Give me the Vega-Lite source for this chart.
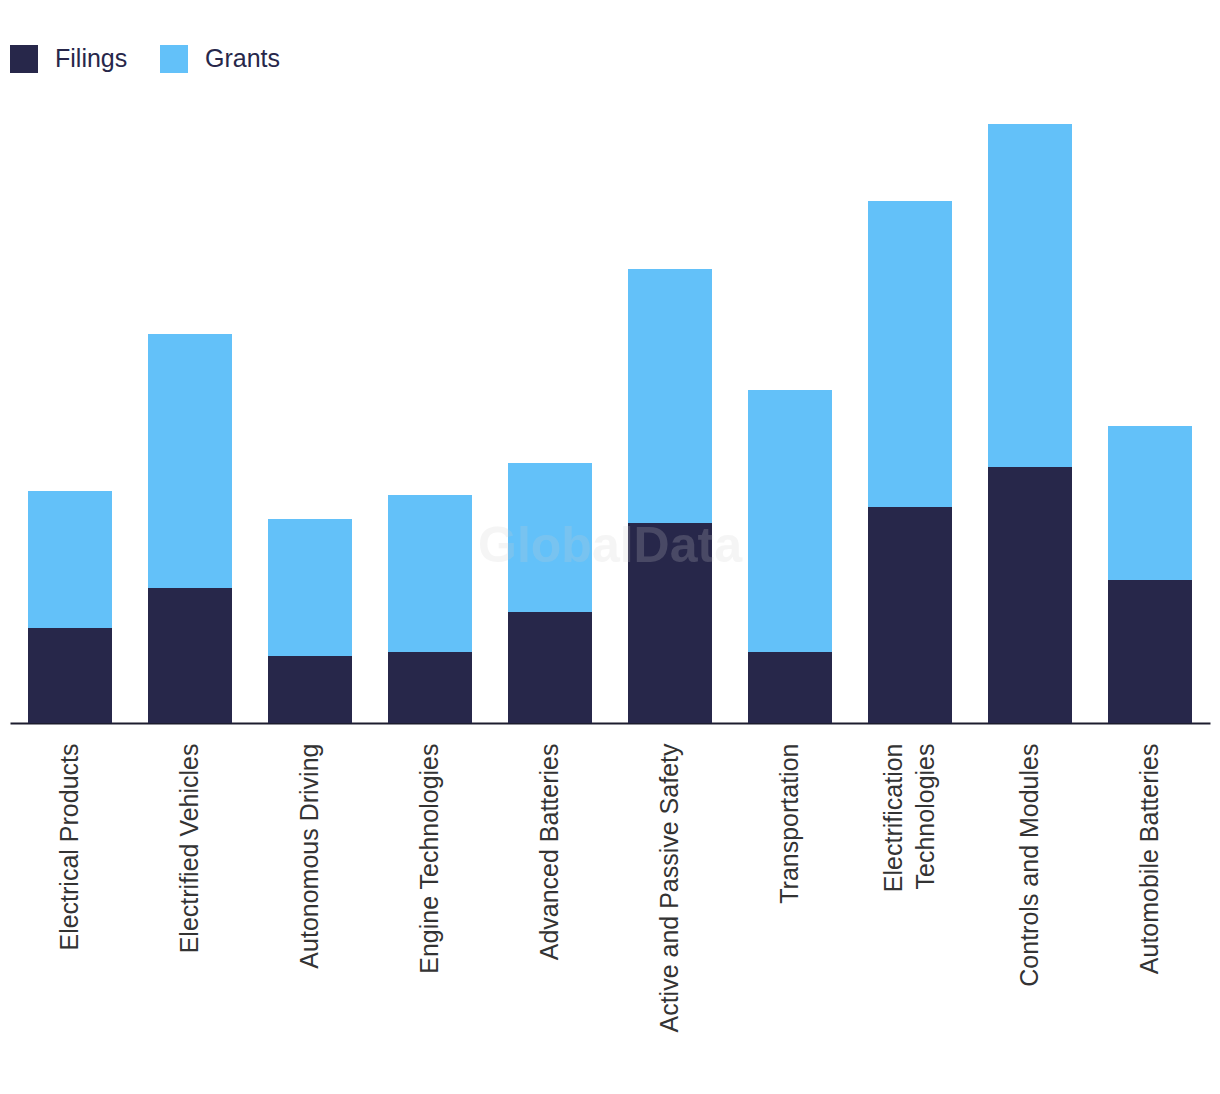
{
  "$schema": "https://vega.github.io/schema/vega-lite/v6.json",
  "width": 1200,
  "height": 623,
  "autosize": {"type": "none"},
  "padding": {"left": 10, "top": 100, "right": 10, "bottom": 371},
  "background": "white",
  "config": {"view": {"stroke": null}},
  "datasets": {
    "bars": [
      {"category": "Electrical Products", "type": "Filings", "value": 95},
      {"category": "Electrical Products", "type": "Grants", "value": 137},
      {"category": "Electrified Vehicles", "type": "Filings", "value": 135},
      {"category": "Electrified Vehicles", "type": "Grants", "value": 254},
      {"category": "Autonomous Driving", "type": "Filings", "value": 67},
      {"category": "Autonomous Driving", "type": "Grants", "value": 137},
      {"category": "Engine Technologies", "type": "Filings", "value": 71},
      {"category": "Engine Technologies", "type": "Grants", "value": 157},
      {"category": "Advanced Batteries", "type": "Filings", "value": 111},
      {"category": "Advanced Batteries", "type": "Grants", "value": 149},
      {"category": "Active and Passive Safety", "type": "Filings", "value": 200},
      {"category": "Active and Passive Safety", "type": "Grants", "value": 254},
      {"category": "Transportation", "type": "Filings", "value": 71},
      {"category": "Transportation", "type": "Grants", "value": 262},
      {"category": "Electrification Technologies", "type": "Filings", "value": 216},
      {"category": "Electrification Technologies", "type": "Grants", "value": 306},
      {"category": "Controls and Modules", "type": "Filings", "value": 256},
      {"category": "Controls and Modules", "type": "Grants", "value": 343},
      {"category": "Automobile Batteries", "type": "Filings", "value": 143},
      {"category": "Automobile Batteries", "type": "Grants", "value": 154}
    ],
    "mark": [{"text": "GlobalData", "pos": 176}]
  },
  "layer": [
    {
      "data": {"name": "bars"},
      "mark": {"type": "bar"},
      "encoding": {
        "x": {
          "field": "category",
          "type": "nominal",
          "sort": null,
          "scale": {"paddingInner": 0.3, "paddingOuter": 0.15},
          "axis": {
            "title": null,
            "labelAngle": -90,
            "labelAlign": "right",
            "labelBaseline": "middle",
            "labelFont": "Liberation Sans",
            "labelFontSize": 25,
            "labelColor": "#333333",
            "labelPadding": 20,
            "labelLineHeight": 32,
            "labelOffset": {"condition": {"test": "datum.label == 'Electrification Technologies'", "value": -16}, "value": 0},
            "labelExpr": "datum.label == 'Electrification Technologies' ? ['Electrification', 'Technologies'] : datum.label",
            "ticks": false,
            "domainColor": "#1c1c2e",
            "domainWidth": 2,
            "labelLimit": 400
          }
        },
        "y": {
          "field": "value",
          "type": "quantitative",
          "stack": "zero",
          "scale": {"domain": [0, 623], "nice": false, "zero": true},
          "axis": null
        },
        "color": {
          "field": "type",
          "type": "nominal",
          "scale": {"domain": ["Filings", "Grants"], "range": ["#27274a", "#63c1f9"]},
          "legend": {
            "title": null,
            "orient": "top",
            "direction": "horizontal",
            "symbolType": "square",
            "symbolSize": 784,
            "symbolStrokeWidth": 0,
            "symbolOpacity": 1,
            "labelFont": "Liberation Sans",
            "labelFontSize": 25,
            "labelColor": "#27274a",
            "labelOffset": 17,
            "columnPadding": 32,
            "offset": 27,
            "padding": 0
          }
        },
        "order": {"field": "type", "sort": "ascending"}
      }
    },
    {
      "data": {"name": "mark"},
      "mark": {
        "type": "text",
        "x": {"expr": "width/2"},
        "font": "Liberation Sans",
        "fontWeight": "bold",
        "fontSize": 50,
        "color": "#cfcfcf",
        "opacity": 0.2,
        "align": "center",
        "baseline": "middle"
      },
      "encoding": {
        "y": {"field": "pos", "type": "quantitative"},
        "text": {"field": "text"}
      }
    }
  ]
}
